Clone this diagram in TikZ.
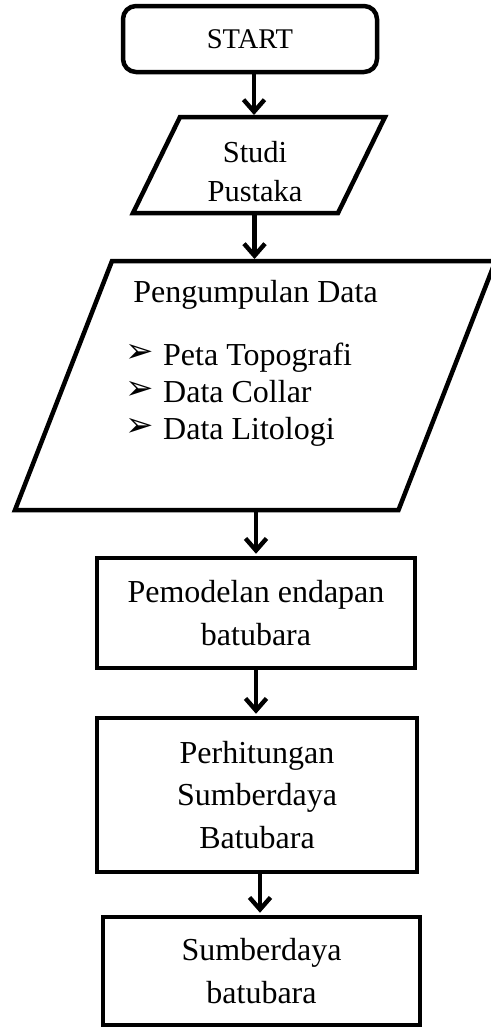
\documentclass[tikz,border=0pt]{standalone}
\usepackage{fontspec}
\setmainfont{Liberation Serif}
\newfontfamily\symfont{DejaVu Sans}
\usetikzlibrary{arrows.meta}
\tikzset{
  txt/.style={font=\fontsize{32}{42.5}\selectfont, align=center, inner sep=0pt},
  procbox/.style={draw, line width=4.5pt, inner sep=0pt, align=center, font=\fontsize{32}{42.5}\selectfont},
  para/.style={draw=none, inner sep=0pt, outer sep=0pt},
  outline/.style={line width=4.5pt, line join=miter},
  bullet/.style={font=\fontsize{32}{37}\selectfont, inner sep=0pt, anchor=base west},
  arr/.style={line width=4.4pt, shorten >=2pt,
    -{Straight Barb[length=12pt,width=21pt]},
    preaction={draw=black!35, transform canvas={xshift=1.3pt,yshift=-1.3pt}}}
}
\newcommand{\mymark}{\makebox[38pt][l]{\raisebox{3pt}{\symfont\fontsize{34}{34}\selectfont ➢}}}
\begin{document}
\begin{tikzpicture}[x=1pt,y=-1pt]
\useasboundingbox (0,0) rectangle (490,1028);

% START
\node[procbox, rounded corners=13pt, minimum width=254pt, minimum height=66pt,
      font=\fontsize{28.5}{34}\selectfont] (start) at (250,39) {START};

% Studi Pustaka
\node[para, minimum width=205pt, minimum height=96pt] (studi) at (259,165) {};
\draw[outline] ([xshift=23.5pt]studi.north west) -- ([xshift=23.5pt]studi.north east)
  -- ([xshift=-23.5pt]studi.south east) -- ([xshift=-23.5pt]studi.south west) -- cycle;
\node[txt, font=\fontsize{30.5}{39}\selectfont] (studitxt) at (255,172) {Studi\\Pustaka};

% Pengumpulan Data
\node[para, minimum width=383.5pt, minimum height=249pt] (peng) at (255.25,385.5) {};
\draw[outline] ([xshift=48.5pt]peng.north west) -- ([xshift=48.5pt]peng.north east)
  -- ([xshift=-48.5pt]peng.south east) -- ([xshift=-48.5pt]peng.south west) -- cycle;
\node[txt, anchor=base] (pengtitle) at (255.5,302) {Pengumpulan Data};
\node[bullet] (b1) at (125,365) {\mymark Peta Topografi};
\node[bullet] (b2) at (125,402) {\mymark Data Collar};
\node[bullet] (b3) at (125,439) {\mymark Data Litologi};

% Process boxes
\node[procbox, minimum width=318pt, minimum height=110pt] (pemod) at (256,613) {Pemodelan endapan\\batubara};
\node[procbox, minimum width=320pt, minimum height=154pt] (perh) at (257,795) {Perhitungan\\Sumberdaya\\Batubara};
\node[procbox, minimum width=317pt, minimum height=108pt] (sumb) at (261.5,971) {Sumberdaya\\batubara};

% Arrows
\draw[arr] ([xshift=4pt]start.south) -- ([xshift=-5pt]studi.north);
\draw[arr] ([xshift=-4.5pt]studi.south) -- ([xshift=-0.75pt]peng.north);
\draw[arr] ([xshift=0.75pt]peng.south) -- (pemod.north);
\draw[arr] (pemod.south) -- ([xshift=-1pt]perh.north);
\draw[arr] ([xshift=3pt]perh.south) -- ([xshift=-1.5pt]sumb.north);
\end{tikzpicture}
\end{document}
